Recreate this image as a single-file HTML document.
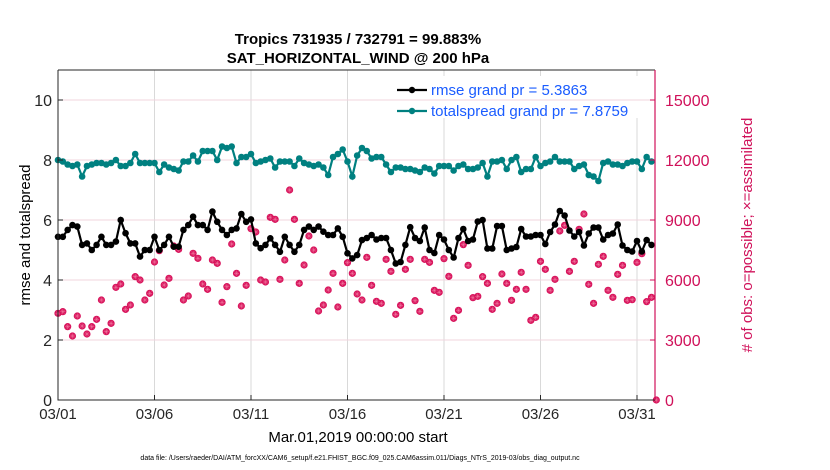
<!DOCTYPE html>
<html><head><meta charset="utf-8"><style>
html,body{margin:0;padding:0;background:#fff;}
svg{display:block;font-family:"Liberation Sans",Arial,sans-serif;}
</style></head><body>
<svg id="chart" width="830" height="470" viewBox="0 0 830 470" xmlns="http://www.w3.org/2000/svg">
<rect width="830" height="470" fill="#fff"/>
<g id="grid"></g>
<g id="series"></g>
<g id="axes"></g>
<text x="358" y="44" text-anchor="middle" font-size="15" font-weight="bold" fill="#000">Tropics 731935 / 732791 = 99.883%</text>
<text x="358" y="63" text-anchor="middle" font-size="15" font-weight="bold" fill="#000">SAT_HORIZONTAL_WIND @ 200 hPa</text>
<text x="358" y="442" text-anchor="middle" font-size="15" fill="#000">Mar.01,2019 00:00:00 start</text>
<text x="360" y="460" text-anchor="middle" font-size="7" fill="#000">data file: /Users/raeder/DAI/ATM_forcXX/CAM6_setup/f.e21.FHIST_BGC.f09_025.CAM6assim.011/Diags_NTrS_2019-03/obs_diag_output.nc</text>
<text transform="translate(30,235) rotate(-90)" text-anchor="middle" font-size="15" fill="#000">rmse and totalspread</text>
<text transform="translate(752,235) rotate(-90)" text-anchor="middle" font-size="15" fill="#d0115a"># of obs: o=possible; ×=assimilated</text>
</svg>
<script>
const xTickLabels = ["03/01","03/06","03/11","03/16","03/21","03/26","03/31"];
const xTickDays = [0,5,10,15,20,25,30];
const leftTicks = [0,2,4,6,8,10];
const rightTicks = [0,3000,6000,9000,12000,15000];
const rmse = [5.44,5.44,5.67,5.83,5.78,5.17,5.22,5.0,5.17,5.44,5.17,5.17,5.28,6.0,5.56,5.22,5.22,4.78,5.0,5.0,5.44,5.0,5.17,5.44,5.11,5.11,5.67,5.83,6.11,5.83,5.83,5.67,6.28,5.94,5.67,5.5,5.67,5.72,6.2,5.94,6.02,5.22,5.06,5.17,5.39,5.17,4.94,5.44,5.17,4.94,5.17,5.67,5.78,5.67,5.78,5.61,5.5,5.5,5.72,5.44,4.89,4.72,4.83,5.33,
5.4,5.5,5.35,5.4,5.4,5.0,4.55,4.6,5.17,5.76,5.4,5.3,5.75,5.0,4.9,5.5,5.35,5.0,4.75,5.4,5.7,5.3,5.35,5.95,6.0,5.05,5.05,5.8,5.8,5.0,5.05,5.1,5.7,5.45,5.45,5.5,5.5,5.2,5.6,5.85,6.3,6.15,5.65,5.45,5.6,5.15,5.55,5.75,5.75,5.35,5.5,5.55,5.85,5.15,5.0,4.95,5.3,4.95,5.33,5.17];
const spread = [8.0,7.95,7.85,7.8,7.85,7.45,7.8,7.85,7.9,7.9,7.85,7.9,8.0,7.8,7.8,7.9,8.2,7.9,7.9,7.9,7.9,7.6,7.85,7.75,7.7,7.65,7.95,7.95,8.15,7.95,8.3,8.3,8.3,8.0,8.45,8.4,8.45,7.9,8.1,8.1,8.2,7.9,7.95,8.0,8.05,7.75,7.95,7.95,7.95,7.8,8.05,7.9,7.85,7.8,7.85,7.75,7.5,8.1,8.2,8.35,7.95,7.45,8.15,8.4,
8.3,8.05,8.1,8.1,7.85,7.6,7.75,7.75,7.7,7.7,7.65,7.6,7.75,7.7,7.55,7.8,7.8,7.8,7.65,7.8,7.85,7.7,7.7,7.75,7.9,7.45,7.95,7.95,8.0,7.7,8.0,8.1,7.6,7.7,7.7,8.1,7.8,7.9,7.95,8.1,7.95,7.95,7.95,7.7,7.8,7.85,7.5,7.45,7.3,7.9,7.95,7.85,7.85,7.8,7.9,7.95,7.95,7.7,8.1,7.95];
const obsCount = [4333,4417,3667,3200,4200,3700,3300,3667,4033,5000,3417,3833,5633,5800,4533,4750,6167,6000,5000,5333,6900,7467,5750,6083,7700,7533,5000,5200,7333,7083,5800,5533,7000,6833,4883,5667,7800,6333,4700,5733,8567,8400,6000,5900,9133,9033,6033,7000,10500,9033,5833,6750,8200,7500,4450,4750,5500,6333,4650,5833,6867,6333,5300,5000,
7133,5733,4933,4833,7033,6433,4283,4733,6533,7033,4967,4433,7033,6883,5483,5383,7067,6183,4083,4483,7767,6733,5117,5183,6167,5833,4533,4833,6300,5833,4983,5533,6383,5533,3983,4133,6933,6533,5483,6033,8450,8733,6433,6933,8533,9300,5783,4833,6783,7183,5483,5133,6283,6733,4983,5017,6883,7317,4917,5133,0];
const legendLabels = ["rmse grand pr = 5.3863","totalspread grand pr = 7.8759"];

const NS="http://www.w3.org/2000/svg";
const PL=58,PR=655,PT=70,PB=400;
const dayPx=19.3, step=0.25;
const xOf=d=>PL+d*dayPx;
const yL=v=>PB-(v/11)*(PB-PT);
const yR=v=>PB-(v/16500)*(PB-PT);
function mk(tag,parent,attrs){const e=document.createElementNS(NS,tag);for(const k in attrs)e.setAttribute(k,attrs[k]);parent.appendChild(e);return e;}
const gridG=document.getElementById('grid'),seriesG=document.getElementById('series'),axesG=document.getElementById('axes'),svgEl=document.getElementById('chart');

xTickDays.forEach((d,i)=>{
  const g=mk('line',gridG,{x1:xOf(d),x2:xOf(d),y1:PT,y2:PB,stroke:'#d9d9d9','stroke-width':1});
  
  
  const t=mk('line',axesG,{x1:xOf(d),x2:xOf(d),y1:PB,y2:PB-5,stroke:'#262626','stroke-width':1});
  
  
  const lb=mk('text',axesG,{x:xOf(d),y:PB+19,'text-anchor':'middle','font-size':15,fill:'#262626'});
  lb.textContent=xTickLabels[i];
  
  
});
leftTicks.forEach(v=>{
  if(v>0){const g=mk('line',gridG,{x1:PL,x2:PR,y1:yL(v),y2:yL(v),stroke:'#f0d4de','stroke-width':1});
  
  }
  const t=mk('line',axesG,{x1:PL,x2:PL+5,y1:yL(v),y2:yL(v),stroke:'#262626'});
  
  
  const lb=mk('text',axesG,{x:PL-6,y:yL(v)+6,'text-anchor':'end','font-size':16,fill:'#262626'});
  lb.textContent=v;
  
  
});
rightTicks.forEach(v=>{
  const t=mk('line',axesG,{x1:PR,x2:PR-5,y1:yR(v),y2:yR(v),stroke:'#d0115a'});
  
  
  const lb=mk('text',axesG,{x:PR+10,y:yR(v)+6,'text-anchor':'start','font-size':16,fill:'#d0115a'});
  lb.textContent=v;
  
  
});

obsCount.forEach((v,i)=>{
  const cx=xOf(i*step),cy=yR(v);
  const g=mk('g',seriesG,{});
  
  
  mk('circle',g,{cx:cx,cy:cy,r:3.6,fill:'#d8145c'});
  mk('path',g,{d:`M${cx-2.5} ${cy}H${cx+2.5}M${cx} ${cy-2.5}V${cy+2.5}M${cx-1.8} ${cy-1.8}L${cx+1.8} ${cy+1.8}M${cx-1.8} ${cy+1.8}L${cx+1.8} ${cy-1.8}`,stroke:'#f07aa0','stroke-width':0.5});
});
function drawLine(arr,color,name,r){
  const pts=arr.map((v,i)=>xOf(i*step).toFixed(1)+','+yL(v).toFixed(1)).join(' ');
  const pl=mk('polyline',seriesG,{points:pts,fill:'none',stroke:color,'stroke-width':2.2});
  
  
  arr.forEach((v,i)=>{
    const c=mk('circle',seriesG,{cx:xOf(i*step),cy:yL(v),r:r,fill:color});
    
    
  });
}
drawLine(spread,'#008080','totalspread',3.3);
drawLine(rmse,'#000000','rmse',3.3);

const fr=mk('path',axesG,{d:`M${PL} ${PT}V${PB}H${PR}`,fill:'none',stroke:'#262626','stroke-width':1});


const topLine=mk('line',axesG,{x1:PL,x2:PR,y1:PT,y2:PT,stroke:'#262626','stroke-width':1});


const ra=mk('line',axesG,{x1:PR,x2:PR,y1:PT,y2:PB,stroke:'#d0115a','stroke-width':1.2});



const lg=mk('g',svgEl,{});


mk('rect',lg,{x:395,y:76,width:254,height:42,fill:'#fff'});
mk('line',lg,{x1:395,x2:649,y1:yL(10),y2:yL(10),stroke:'#f0d4de'});
[['#000000',90],['#008080',111]].forEach((c,i)=>{
  const e=mk('g',lg,{});
  
  
  mk('line',e,{x1:397,x2:427,y1:c[1],y2:c[1],stroke:c[0],'stroke-width':2.2});
  mk('circle',e,{cx:412,cy:c[1],r:3.2,fill:c[0]});
  const t=mk('text',e,{x:431,y:c[1]+5,'font-size':15,fill:'#1a5cff'});
  t.textContent=legendLabels[i];
});
</script>
</body></html>
